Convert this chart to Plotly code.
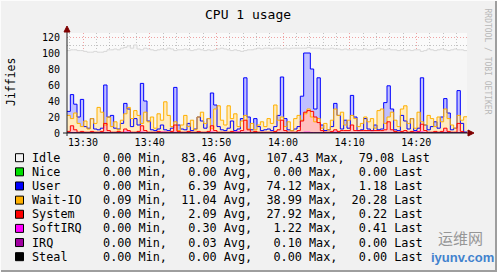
import plotly.graph_objects as go
import pandas as pd

# ---------------- data ----------------
chart_title = "CPU 1 usage"
y_title = "Jiffies"
credit = "RRDTOOL / TOBI OETIKER"
start_time = "2024-01-01 13:27:36"
step_seconds = 30
x_range = ["2024-01-01 13:27:36", "2024-01-01 14:27:36"]
x_tick0 = "2024-01-01 13:30:00"

series_names = ["Idle", "Nice", "User", "Wait-IO", "System", "SoftIRQ", "IRQ", "Steal"]
line_colors = ["#D8D8D8", "#00E000", "#0000FF", "#FFB000", "#FF0000", "#FF00FF", "#A000A0", "#000000"]
fill_colors = ["#F6F6F6", "#BFF7BF", "#BFBFFF", "#FFEBBF", "#FFBFBF", "#FFBFFF", "#E7BFE7", "#BFBFBF"]
swatch_colors = ["#F2F2F2", "#00E000", "#0000FF", "#FFB000", "#FF0000", "#FF00FF", "#A000A0", "#000000"]

stat_min = [0.00, 0.00, 0.00, 0.09, 0.00, 0.00, 0.00, 0.00]
stat_avg = [83.46, 0.00, 6.39, 11.04, 2.09, 0.30, 0.03, 0.00]
stat_max = [107.43, 0.00, 74.12, 38.99, 27.92, 1.22, 0.10, 0.00]
stat_last = [79.08, 0.00, 1.18, 20.28, 0.22, 0.41, 0.00, 0.00]

idle = [
    103, 104, 104, 103, 103, 102, 101, 101, 102, 101,
    101, 102, 104, 104, 105, 104, 106, 107, 109, 106,
    110, 105, 104, 106, 105, 104, 103, 104, 105, 104,
    106, 105, 103, 104, 104, 105, 104, 103, 104, 105,
    104, 103, 104, 103, 104, 105, 106, 105, 104, 103,
    104, 103, 102, 103, 104, 104, 105, 106, 105, 106,
    106, 105, 106, 106, 105, 106, 105, 106, 106, 106,
    106, 106, 107, 106, 106, 106, 105, 105, 105, 106,
    105, 105, 104, 105, 104, 104, 105, 104, 104, 105,
    104, 104, 105, 106, 105, 104, 105, 104, 104, 103,
    104, 103, 104, 103, 104, 104, 102, 103, 105, 104,
    103, 104, 105, 104, 103, 104, 105, 104, 104, 103,
]
nice = [0] * 120
user = [
    27, 48, 36, 20, 42, 8, 6, 18, 5, 4,
    6, 60, 20, 22, 6, 5, 12, 37, 30, 8,
    18, 10, 62, 40, 15, 4, 3, 5, 10, 4,
    3, 6, 57, 10, 5, 4, 12, 3, 5, 20,
    15, 6, 18, 50, 35, 8, 4, 3, 6, 15,
    3, 5, 18, 69, 20, 4, 18, 8, 3, 4,
    5, 3, 8, 22, 70, 18, 4, 3, 5, 8,
    46, 100, 100, 80, 30, 69, 10, 3, 4, 8,
    37, 22, 5, 16, 6, 47, 20, 3, 4, 18,
    5, 3, 10, 4, 5, 38, 59, 30, 4, 3,
    22, 15, 5, 18, 3, 6, 69, 10, 4, 8,
    14, 6, 20, 43, 25, 4, 6, 53, 12, 1.18,
]
wait_io = [
    22, 18, 25, 12, 8, 15, 5, 18, 12, 32,
    26, 10, 20, 8, 14, 4, 16, 24, 32, 18,
    28, 22, 12, 26, 14, 20, 6, 24, 16, 39,
    22, 8, 14, 3, 10, 22, 8, 16, 4, 20,
    26, 12, 18, 6, 30, 34, 16, 10, 34, 18,
    24, 8, 15, 22, 5, 12, 4, 10, 14, 8,
    18, 12, 35, 16, 20, 8, 14, 3, 18, 22,
    16, 24, 30, 20, 14, 18, 6, 12, 4, 16,
    30, 22, 26, 10, 16, 22, 18, 8, 12, 20,
    14, 18, 6, 28, 30, 12, 20, 26, 16, 8,
    30, 34, 12, 18, 6, 26, 14, 10, 22, 18,
    8, 20, 14, 30, 18, 10, 6, 22, 16, 20.28,
]
system = [
    2, 9, 4, 1, 2, 1, 1, 2, 1, 1,
    2, 12, 3, 1, 1, 2, 1, 5, 3, 1,
    1, 2, 9, 3, 1, 1, 1, 2, 1, 1,
    1, 2, 10, 2, 1, 1, 2, 1, 1, 2,
    1, 1, 2, 9, 3, 1, 1, 1, 1, 2,
    1, 1, 3, 16, 4, 1, 2, 1, 1, 1,
    1, 1, 2, 4, 16, 3, 1, 1, 1, 3,
    15, 26, 28, 27, 20, 13, 3, 1, 1, 2,
    4, 2, 3, 3, 3, 10, 3, 3, 3, 3,
    3, 3, 3, 3, 3, 4, 14, 4, 2, 1,
    2, 3, 1, 2, 1, 2, 11, 3, 1, 1,
    2, 1, 2, 6, 2, 1, 1, 12, 2, 0.22,
]
softirq = [
    0.2, 0.5, 0.3, 0.1, 0.2, 0.4, 0.1, 0.2, 0.3, 0.2,
    0.3, 0.6, 0.2, 0.1, 0.3, 0.2, 0.1, 1.0, 1.0, 0.4,
    0.2, 0.3, 1.0, 0.5, 0.2, 0.1, 0.3, 0.2, 1.0, 1.0,
    0.3, 0.2, 0.8, 0.2, 0.1, 0.3, 0.2, 0.1, 0.3, 0.2,
    0.1, 0.3, 0.2, 1.0, 0.3, 0.1, 0.2, 0.3, 0.2, 0.1,
    1.0, 1.2, 0.3, 0.8, 0.2, 0.1, 0.2, 0.3, 0.1, 0.2,
    0.3, 0.2, 0.1, 0.3, 0.5, 0.2, 0.1, 0.2, 0.3, 0.2,
    0.4, 1.0, 1.0, 0.6, 0.3, 0.2, 0.1, 0.2, 0.3, 0.2,
    1.0, 0.3, 0.2, 0.1, 0.2, 0.6, 0.2, 0.1, 0.3, 0.2,
    0.1, 0.2, 0.3, 0.2, 0.1, 0.3, 0.5, 0.2, 0.1, 0.2,
    0.3, 0.2, 0.1, 0.2, 1.0, 1.0, 1.2, 0.3, 0.2, 0.1,
    0.2, 0.3, 0.2, 0.8, 0.2, 0.1, 0.3, 0.6, 0.3, 0.41,
]
irq = [0.0] * 60 + [0.1, 0.0, 0.0, 0.1] + [0.0] * 56
steal = [0] * 120

series_values = [idle, nice, user, wait_io, system, softirq, irq, steal]

# ---------------- geometry helpers (pixel -> paper) ----------------
W, H = 497, 272
PL, PT, PW, PH = 67, 33, 400, 100


def px(x):
    return (x - PL) / PW


def py(y):
    return (PT + PH - y) / PH


times = pd.date_range(start_time, periods=len(idle) + 1, freq=f"{step_seconds}s")

fig = go.Figure()

# areas first
for name, vals, fc in zip(series_names, series_values, fill_colors):
    ext = list(vals) + [vals[-1]]
    fig.add_trace(go.Scatter(
        x=times, y=ext, mode="lines", line=dict(width=0, shape="hv"),
        fill="tozeroy", fillcolor=fc, hoverinfo="skip", showlegend=False, name=name))
# then lines
for name, vals, lc in zip(series_names, series_values, line_colors):
    ext = list(vals) + [vals[-1]]
    fig.add_trace(go.Scatter(
        x=times, y=ext, mode="lines", line=dict(width=1, shape="hv", color=lc),
        showlegend=False, name=name))

MONO = "DejaVu Sans Mono"
major_grid = "rgba(230,90,90,0.55)"
minor_grid = "rgba(150,150,150,0.55)"

fig.update_layout(
    width=W, height=H, autosize=False,
    margin=dict(l=PL, r=W - PL - PW, t=PT, b=H - PT - PH, pad=0),
    paper_bgcolor="#F1F1F1", plot_bgcolor="#FAFAFA",
    font=dict(family=MONO, size=10, color="#000000"),
    showlegend=False,
)
fig.update_xaxes(
    type="date", range=x_range, tick0=x_tick0, dtick=600000, tickformat="%H:%M",
    showgrid=True, gridcolor=major_grid, griddash="1px,2px", gridwidth=1,
    minor=dict(dtick=120000, tick0=x_tick0, showgrid=True, gridcolor=minor_grid,
               griddash="1px,2px", gridwidth=1),
    zeroline=False, showline=False, ticks="", ticklabelstandoff=2,
    tickfont=dict(family=MONO, size=10, color="#000000"),
)
fig.update_yaxes(
    range=[0, 125], dtick=20, tick0=0,
    showgrid=True, gridcolor=major_grid, griddash="1px,2px", gridwidth=1,
    minor=dict(dtick=10, tick0=0, showgrid=True, gridcolor=minor_grid,
               griddash="1px,2px", gridwidth=1),
    zeroline=False, showline=False, ticks="", ticklabelstandoff=6,
    tickfont=dict(family=MONO, size=10, color="#000000"),
)

shapes = []
annotations = []

# axes lines and arrows
axis_col = "#202020"
arrow_col = "#7F0000"
shapes.append(dict(type="line", xref="paper", yref="paper", x0=px(63), x1=px(469), y0=0, y1=0,
                   line=dict(color=axis_col, width=1), layer="above"))
shapes.append(dict(type="line", xref="paper", yref="paper", x0=0, x1=0, y0=py(136), y1=py(31),
                   line=dict(color=axis_col, width=1), layer="above"))
shapes.append(dict(type="path", xref="paper", yref="paper",
                   path=f"M {px(468)} {py(130)} L {px(474)} {py(133)} L {px(468)} {py(136)} Z",
                   fillcolor=arrow_col, line=dict(color=arrow_col, width=1), layer="above"))
shapes.append(dict(type="path", xref="paper", yref="paper",
                   path=f"M {px(64)} {py(32)} L {px(67)} {py(26)} L {px(70)} {py(32)} Z",
                   fillcolor=arrow_col, line=dict(color=arrow_col, width=1), layer="above"))

# frame shade
shapes.append(dict(type="rect", xref="paper", yref="paper", x0=px(0), x1=px(W), y0=py(H), y1=py(H - 2),
                   fillcolor="#9E9E9E", line=dict(width=0)))
shapes.append(dict(type="rect", xref="paper", yref="paper", x0=px(W - 2), x1=px(W), y0=py(H), y1=py(0),
                   fillcolor="#9E9E9E", line=dict(width=0)))
shapes.append(dict(type="rect", xref="paper", yref="paper", x0=px(0), x1=px(W), y0=py(0), y1=py(1),
                   fillcolor="#FCFCFC", line=dict(width=0)))
shapes.append(dict(type="rect", xref="paper", yref="paper", x0=px(0), x1=px(1), y0=py(H), y1=py(0),
                   fillcolor="#FCFCFC", line=dict(width=0)))

# title, axis title, credit
annotations.append(dict(text=chart_title, xref="paper", yref="paper", x=px(248), y=py(14),
                        xanchor="center", yanchor="middle", showarrow=False,
                        font=dict(family=MONO, size=13, color="#000000")))
annotations.append(dict(text=y_title, xref="paper", yref="paper", x=px(11), y=py(82),
                        xanchor="center", yanchor="middle", showarrow=False, textangle=-90,
                        font=dict(family=MONO, size=11.5, color="#000000")))
annotations.append(dict(text=credit.replace(" ", "\u00a0"), xref="paper", yref="paper", x=px(487.5), y=py(61),
                        xanchor="center", yanchor="middle", showarrow=False, textangle=90,
                        font=dict(family=MONO, size=8, color="#B8B8B8")))

# legend rows
row0, row_step = 157.7, 14.14
for i, name in enumerate(series_names):
    yc = row0 + i * row_step
    shapes.append(dict(type="rect", xref="paper", yref="paper",
                       x0=px(15.5), x1=px(23.5), y0=py(yc + 4), y1=py(yc - 4),
                       fillcolor=swatch_colors[i], line=dict(color="#000000", width=1)))
    txt = (f"{name:<7}  {stat_min[i]:5.2f} Min,  {stat_avg[i]:5.2f} Avg,  "
           f"{stat_max[i]:5.2f} Max,  {stat_last[i]:5.2f} Last").replace(" ", "\u00a0")
    annotations.append(dict(text=txt, xref="paper", yref="paper", x=px(29.5), y=py(yc),
                            xanchor="left", yanchor="middle", showarrow=False,
                            font=dict(family=MONO, size=11.8, color="#000000")))

# watermark text (kept clear of the legend text)
annotations.append(dict(text="运维网", xref="paper", yref="paper", x=px(460), y=py(238),
                        xanchor="center", yanchor="middle", showarrow=False, opacity=0.8,
                        font=dict(family="Noto Sans CJK SC", size=15, color="#808080")))
annotations.append(dict(text="<b>iyunv.com</b>", xref="paper", yref="paper", x=px(462), y=py(257),
                        xanchor="center", yanchor="middle", showarrow=False, opacity=0.85,
                        font=dict(family="Liberation Sans", size=13, color="#1F6FC8")))

fig.update_layout(shapes=shapes, annotations=annotations)
fig.write_html("out.html")
